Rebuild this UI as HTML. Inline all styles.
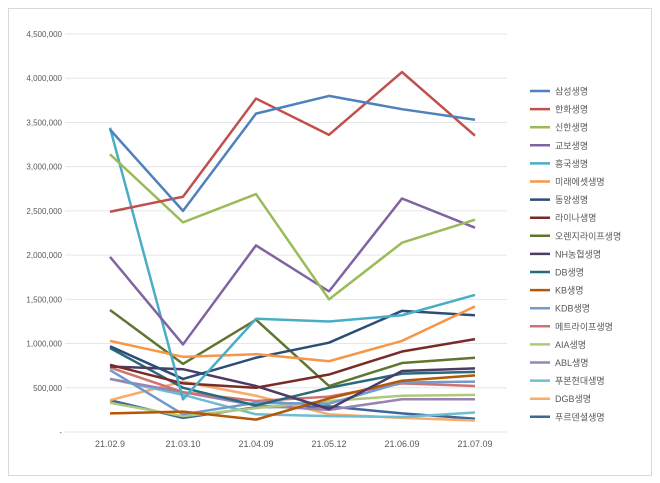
<!DOCTYPE html>
<html><head><meta charset="utf-8"><style>
body{margin:0;background:#fff;width:660px;height:483px;overflow:hidden}
svg{display:block;font-family:"Liberation Sans","Noto Sans CJK KR",sans-serif}
</style></head><body>
<svg id="chart" width="660" height="483">
<rect x="8.5" y="8.5" width="643" height="467" fill="#fff" stroke="#d9d9d9"/>
<g id="grid"></g><g id="series"></g><g id="legend"></g>
</svg>
<script>
const categories=["21.02.9","21.03.10","21.04.09","21.05.12","21.06.09","21.07.09"];
const yTicks=[0,500000,1000000,1500000,2000000,2500000,3000000,3500000,4000000,4500000];
const names=["삼성생명","한화생명","신한생명","교보생명","흥국생명","미래에셋생명","동양생명","라이나생명","오렌지라이프생명","NH농협생명","DB생명","KB생명","KDB생명","메트라이프생명","AIA생명","ABL생명","푸본현대생명","DGB생명","푸르덴셜생명"];
const colors=["#4f81bd","#c0504d","#9bbb59","#8064a2","#4bacc6","#f79646","#2c4d75","#772c2a","#5f7530","#4d3b62","#276a7c","#b65708","#729aca","#cd7371","#afc97a","#9983b5","#6fbdd1","#f9ab6b","#3a679c"];
const s0=[3420000,2500000,3600000,3800000,3650000,3530000];
const s1=[2490000,2660000,3770000,3360000,4070000,3350000];
const s2=[3140000,2370000,2690000,1500000,2140000,2400000];
const s3=[1980000,990000,2110000,1590000,2640000,2310000];
const s4=[3440000,370000,1280000,1250000,1320000,1550000];
const s5=[1030000,850000,880000,800000,1030000,1420000];
const s6=[970000,600000,840000,1010000,1370000,1320000];
const s7=[760000,550000,500000,650000,910000,1050000];
const s8=[1380000,770000,1270000,520000,780000,840000];
const s9=[740000,710000,520000,260000,690000,720000];
const s10=[950000,500000,300000,500000,660000,680000];
const s11=[210000,230000,140000,380000,580000,640000];
const s12=[700000,200000,330000,320000,560000,570000];
const s13=[730000,450000,350000,400000,550000,520000];
const s14=[330000,180000,270000,350000,410000,420000];
const s15=[600000,450000,300000,250000,370000,370000];
const s16=[600000,420000,200000,180000,170000,220000];
const s17=[360000,570000,410000,200000,160000,130000];
const s18=[360000,160000,280000,290000,210000,150000];
const values=[s0,s1,s2,s3,s4,s5,s6,s7,s8,s9,s10,s11,s12,s13,s14,s15,s16,s17,s18];
const NS="http://www.w3.org/2000/svg";
const x=i=>110+i*73;
const y=v=>432-v/4500000*398;
function mk(t,a,p){const e=document.createElementNS(NS,t);for(const k in a)e.setAttribute(k,a[k]);p.appendChild(e);return e;}
const g=document.getElementById('grid');
yTicks.forEach(v=>{
 const l=mk('line',{x1:65,x2:507,y1:y(v),y2:y(v),stroke:'#e6e6e6'},g);
 
 
 const t=mk('text',{x:62,y:y(v)+3,'text-anchor':'end','font-size':'8',fill:'#595959'},g);
 t.textContent=v===0?'-':v.toLocaleString('en-US');
 
 
});
categories.forEach((c,i)=>{
 const t=mk('text',{x:x(i),y:447,'text-anchor':'middle','font-size':'9',fill:'#595959'},g);
 t.textContent=c;
 
 
});
const sg=document.getElementById('series');
for(let k=values.length-1;k>=0;k--){
 const p=mk('polyline',{points:values[k].map((v,i)=>x(i)+','+y(v)).join(' '),fill:'none',stroke:colors[k],'stroke-width':'2.5','stroke-linejoin':'round'},sg);
 
 
}
const lg=document.getElementById('legend');
names.forEach((n,k)=>{
 const yy=91+k*18.1;
 const l=mk('line',{x1:530,x2:550,y1:yy,y2:yy,stroke:colors[k],'stroke-width':'2.5'},lg);
 
 
 const t=mk('text',{x:555,y:yy+3.5,'font-size':'9',fill:'#595959'},lg);
 t.textContent=n;
 
 
});
</script>
</body></html>
